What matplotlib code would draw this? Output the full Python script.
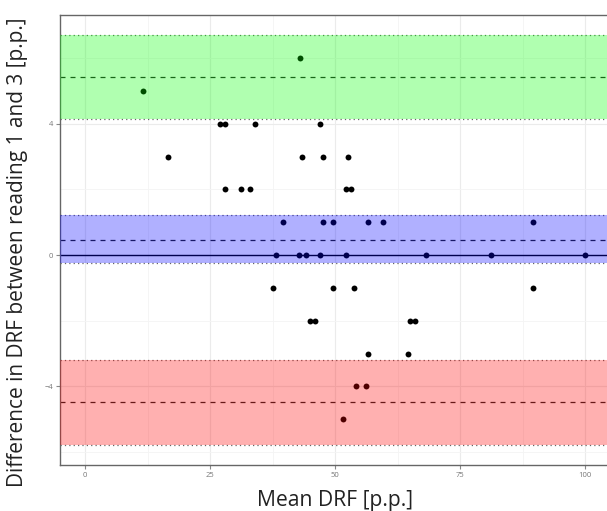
import matplotlib.pyplot as plt
from matplotlib.ticker import MultipleLocator

plt.rcParams['font.family'] = ['Open Sans', 'DejaVu Sans']

# mean of readings 1 and 3, and their difference
mean_drf = [43.0, 11.5,
            26.9, 28.0, 34.0, 47.0,
            16.5, 43.4, 47.6, 52.5,
            28.0, 31.1, 33.0, 52.1, 53.1,
            39.5, 47.6, 49.6, 56.6, 59.6, 89.6,
            38.1, 42.7, 44.1, 47.0, 52.1, 68.1, 81.2, 100.0,
            37.5, 49.6, 53.7, 89.6,
            45.0, 46.0, 64.9, 66.0,
            56.6, 64.6,
            54.1, 56.1,
            51.6]
diff_drf = [6, 5,
            4, 4, 4, 4,
            3, 3, 3, 3,
            2, 2, 2, 2, 2,
            1, 1, 1, 1, 1, 1,
            0, 0, 0, 0, 0, 0, 0, 0,
            -1, -1, -1, -1,
            -2, -2, -2, -2,
            -3, -3,
            -4, -4,
            -5]

# bias and limits of agreement with their confidence intervals
bias = 0.46
bias_ci = (-0.25, 1.22)
upper_loa = 5.43
upper_ci = (4.13, 6.70)
lower_loa = -4.47
lower_ci = (-5.78, -3.18)

fig = plt.figure(figsize=(6.07, 5.11), dpi=100)
# right edge of the panel sits just past the figure border
ax = fig.add_axes([60 / 607, 46 / 511, 550 / 607, 450 / 511])

ax.scatter(mean_drf, diff_drf, s=18, color='black', zorder=2, linewidths=0)
ax.axhline(0, color='black', lw=1.0, zorder=2)

for lo, hi, mid, col in [(upper_ci[0], upper_ci[1], upper_loa, (0, 1, 0)),
                         (bias_ci[0], bias_ci[1], bias, (0, 0, 1)),
                         (lower_ci[0], lower_ci[1], lower_loa, (1, 0, 0))]:
    ax.axhline(mid, color='#222222', lw=0.9, ls=(0, (4, 4)), zorder=2)
    ax.axhline(lo, color='#666666', lw=0.9, ls=(0, (1, 2.5)), zorder=2)
    ax.axhline(hi, color='#666666', lw=0.9, ls=(0, (1, 2.5)), zorder=2)
    ax.axhspan(lo, hi, color=col, alpha=0.31, lw=0, zorder=3)

ax.set_xlim(-5, 105)
ax.set_ylim(-6.39, 7.31)
ax.xaxis.set_major_locator(MultipleLocator(25))
ax.xaxis.set_minor_locator(MultipleLocator(12.5))
ax.yaxis.set_major_locator(MultipleLocator(4))
ax.yaxis.set_minor_locator(MultipleLocator(2))
ax.grid(which='major', color='#ebebeb', lw=0.8, zorder=0)
ax.grid(which='minor', color='#f4f4f4', lw=0.6, zorder=0)
ax.set_axisbelow(True)

ax.tick_params(which='major', length=3, width=0.8, color='#888888',
               labelsize=5.5, labelcolor='#777777', pad=2)
ax.tick_params(which='minor', length=0)
for sp in ax.spines.values():
    sp.set_color('#666666')
    sp.set_linewidth(1.0)

ax.set_xlabel('Mean DRF [p.p.]', fontsize=15.2, color='#222222', labelpad=8)
ax.set_ylabel('Difference in DRF between reading 1 and 3 [p.p.]', fontsize=15.0,
              color='#222222')
ax.yaxis.set_label_coords(-32 / 550, 0.473)

fig.savefig('out.png', dpi=100)
